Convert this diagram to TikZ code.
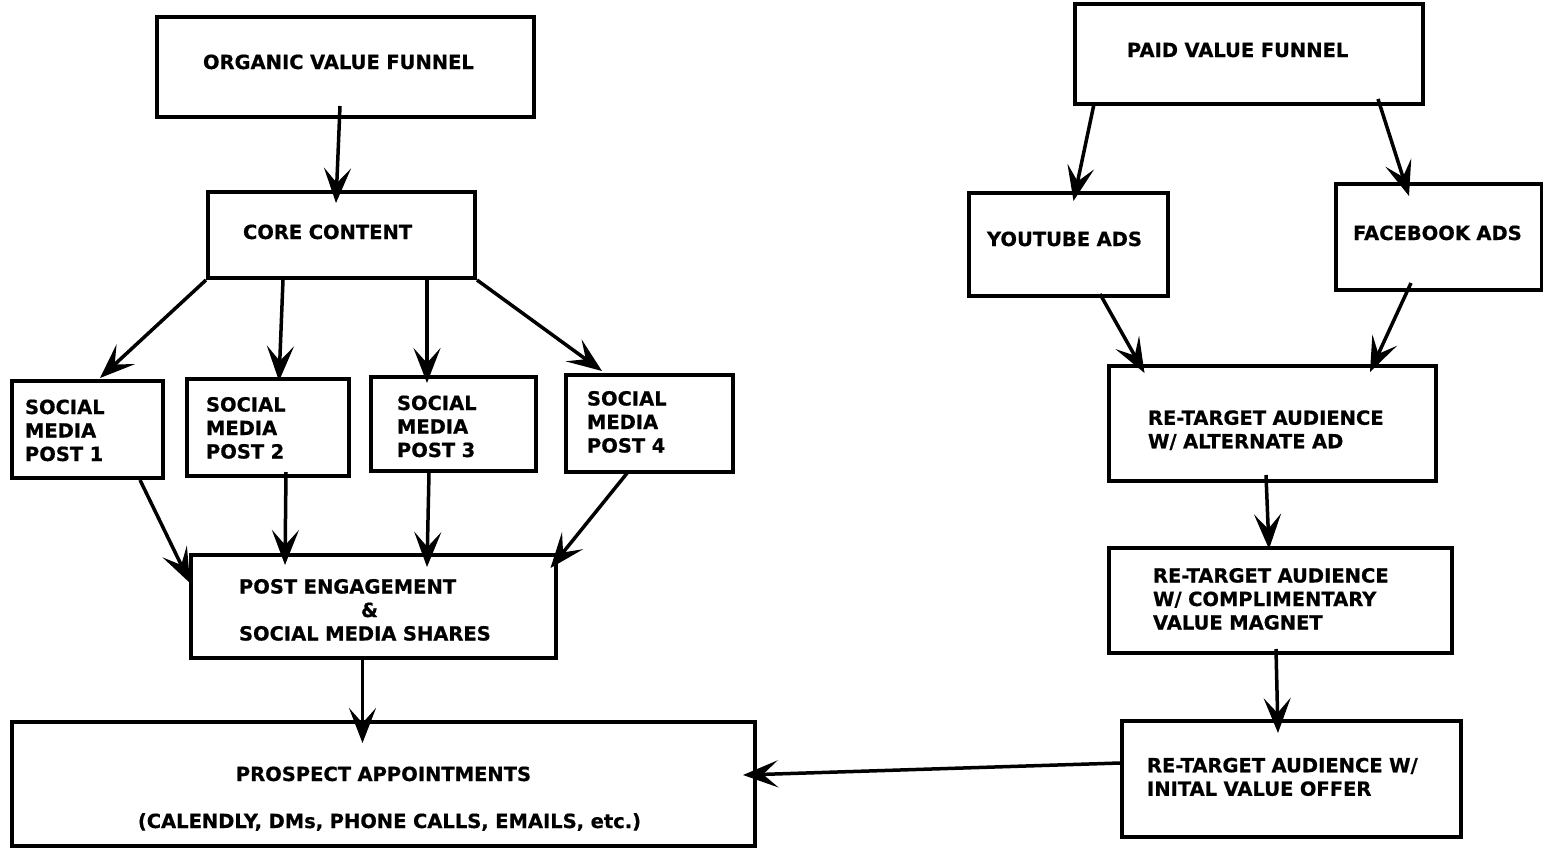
\documentclass[tikz,border=0pt]{standalone}
\usepackage{fontspec}
\setmainfont{DejaVu Sans}[BoldFeatures={FakeBold=0.6}]
\usetikzlibrary{calc, arrows.meta}

\begin{document}
\begin{tikzpicture}[
  x=1pt, y=-1pt,
  every node/.style={font=\bfseries\fontsize{19.5pt}{23.5pt}\selectfont}
]
\tikzstyle{box}=[draw, line width=4pt, inner ysep=0pt, align=left, text height=14pt]
\tikzstyle{flow}=[-{Stealth[length=35pt, width=27pt, inset=15pt]}, line width=3.5pt]

\useasboundingbox (0,0) rectangle (1543,847);

% ================= ORGANIC FUNNEL =================
\node[box, minimum width=377pt, minimum height=100pt, inner xsep=46pt, text width=285pt, text depth=10pt] (organic) at (345.5,67) {ORGANIC VALUE FUNNEL};
\node[box, minimum width=267pt, minimum height=86pt, inner xsep=35pt, text width=197pt, text depth=6pt] (core) at (341.5,235) {CORE CONTENT};

\node[box, minimum width=151pt, minimum height=97pt, inner xsep=13pt, text width=125pt, text depth=45pt] (post1) at (87.5,429.5) {SOCIAL\\MEDIA\\POST 1};
\node[box, minimum width=162pt, minimum height=97pt, inner xsep=19pt, text width=124pt, text depth=46pt] (post2) at (268,427.5) {SOCIAL\\MEDIA\\POST 2};
\node[box, minimum width=165pt, minimum height=94pt, inner xsep=26pt, text width=113pt, text depth=42pt] (post3) at (453.5,424) {SOCIAL\\MEDIA\\POST 3};
\node[box, minimum width=167pt, minimum height=97pt, inner xsep=21pt, text width=125pt, text depth=50pt] (post4) at (649.5,423.5) {SOCIAL\\MEDIA\\POST 4};

\node[box, minimum width=365pt, minimum height=103pt, inner xsep=48pt, text width=269pt, text depth=40pt] (engage) at (373.5,606.5) {POST ENGAGEMENT\\\hspace*{122pt}\&\\SOCIAL MEDIA SHARES};
\node[box, minimum width=743pt, minimum height=124pt, inner xsep=10pt, text width=723pt, align=center, text depth=20pt] (prospect) at (383.5,784) {PROSPECT APPOINTMENTS\\[23.5pt]\hspace*{12pt}(CALENDLY, DMs, PHONE CALLS, EMAILS, etc.)};

% ================= PAID FUNNEL =================
\node[box, minimum width=348pt, minimum height=100pt, inner xsep=52pt, text width=244pt, text depth=8pt] (paid) at (1249,54) {PAID VALUE FUNNEL};
\node[box, minimum width=199pt, minimum height=103pt, inner xsep=18pt, text width=163pt, text depth=11pt] (youtube) at (1068.5,244.5) {YOUTUBE ADS};
\node[box, minimum width=206pt, minimum height=106pt, inner xsep=17pt, text width=172pt, text depth=8pt] (facebook) at (1439,237) {FACEBOOK ADS};

\node[box, minimum width=327pt, minimum height=115pt, inner xsep=39pt, text width=249pt, text depth=11.5pt] (retarget1) at (1272.5,423.5) {RE-TARGET AUDIENCE\\W/ ALTERNATE AD};
\node[box, minimum width=343pt, minimum height=105pt, inner xsep=44pt, text width=255pt, text depth=50pt] (retarget2) at (1280.5,600.5) {RE-TARGET AUDIENCE\\W/ COMPLIMENTARY\\VALUE MAGNET};
\node[box, minimum width=339pt, minimum height=116pt, inner xsep=25pt, text width=289pt, text depth=27.5pt] (retarget3) at (1291.5,779) {RE-TARGET AUDIENCE W/\\INITAL VALUE OFFER};

% ===== Organic arrows =====
\draw[flow] ($(organic.south)+(-5.5,-13)$) -- ($(core.north)+(-5.5,13)$);
\draw[flow] (core.south west) -- ($(post1.north)+(12.5,-1)$);
\draw[flow] ($(core.south)+(-58.5,0)$) -- ($(post2.north)+(11,4)$);
\draw[flow] ($(core.south)+(85.5,-3)$) -- ($(post3.north)+(-26.5,8)$);
\draw[flow] (core.south east) -- ($(post4.north)+(-47.5,-2)$);

\draw[flow] ($(post1.south)+(52.5,0)$) -- ($(engage.north west)+(1,30)$);
\draw[flow] ($(post2.south)+(18,-6)$) -- ($(engage.north)+(-88.5,12)$);
\draw[flow] ($(post3.south)+(-24.5,0)$) -- ($(engage.north)+(53.5,14)$);
\draw[flow] ($(post4.south)+(-21.5,-2)$) -- ($(engage.north east)+(-7.5,15)$);

\draw[flow] ($(engage.south)+(-11,0)$) -- ($(prospect.north)+(-21,23)$);

% ===== Paid arrows =====
\draw[flow] ($(paid.south west)+(21,-2)$) -- ($(youtube.north)+(5,10)$);
\draw[flow] ($(paid.south east)+(-47,-7)$) -- ($(facebook.north)+(-30,14)$);

\draw[flow] ($(youtube.south)+(31.5,-4)$) -- ($(retarget1.north west)+(37.5,9)$);
\draw[flow] ($(facebook.south)+(-28,-9)$) -- ($(retarget1.north east)+(-68,8)$);

\draw[flow] ($(retarget1.south)+(-6.5,-8)$) -- ($(retarget2.north)+(-11.5,3)$);
\draw[flow] ($(retarget2.south)+(-4.5,-6)$) -- ($(retarget3.north)+(-13.5,14)$);

% ===== Into appointments =====
\draw[flow] ($(retarget3.west)+(0,-16)$) -- ($(prospect.east)+(-14,-9)$);
\end{tikzpicture}
\end{document}
